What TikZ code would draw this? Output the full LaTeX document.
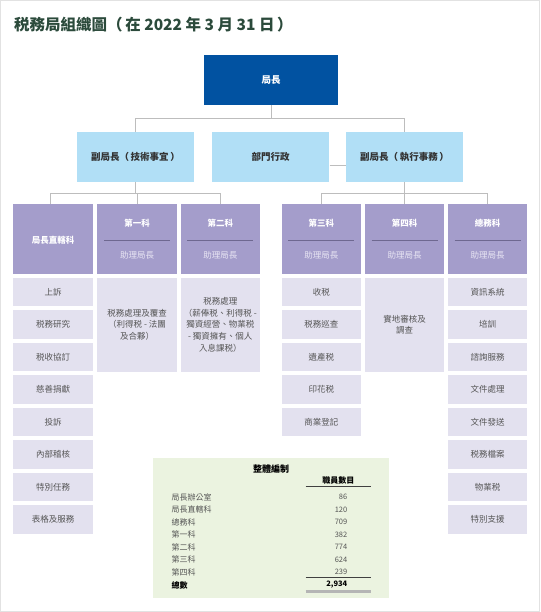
\documentclass[tikz,border=0pt]{standalone}
\usepackage{fontspec}
\setmainfont{Noto Sans CJK TC}
\usetikzlibrary{calc}
\definecolor{chiefblue}{HTML}{0152A1}
\definecolor{deplblue}{HTML}{B1DFF6}
\definecolor{hdrpurple}{HTML}{A49DCB}
\definecolor{itemlav}{HTML}{E3E1EF}
\definecolor{tblgreen}{HTML}{EBF3E0}
\definecolor{linegrey}{HTML}{BDBDBD}
\definecolor{titlegreen}{HTML}{2B4A3B}
\definecolor{itemtext}{HTML}{555555}
\definecolor{subwhite}{HTML}{E9E6F4}
\definecolor{dividerc}{HTML}{6E6890}
\definecolor{framegrey}{HTML}{E2E2E2}
\definecolor{bargrey}{HTML}{B5B5B5}
\tikzset{
  box/.style={rectangle, inner sep=0pt, draw=none, align=center},
  chiefbox/.style={box, fill=chiefblue, text=white, font=\bfseries\fontsize{9.5}{11}\selectfont, minimum width=133.4pt, minimum height=50pt},
  depbox/.style={box, fill=deplblue, text=black!80, font=\bfseries\fontsize{9.5}{11}\selectfont, minimum width=117.6pt, minimum height=49.4pt},
  hdrbox/.style={box, fill=hdrpurple, minimum width=79.4pt, minimum height=69.7pt},
  hdrtitle/.style={box, text=white, font=\bfseries\fontsize{8.5}{10}\selectfont},
  hdrsub/.style={box, text=subwhite, font=\fontsize{8.5}{10}\selectfont},
  itembox/.style={box, fill=itemlav, text=itemtext, font=\fontsize{8.5}{11.7}\selectfont, minimum width=79.4pt, minimum height=28.5pt},
  bigitem/.style={itembox, minimum height=94pt},
  conn/.style={draw=linegrey, line width=0.8pt},
  divline/.style={draw=dividerc, line width=0.7pt},
  tlabel/.style={box, text=itemtext, font=\fontsize{8}{9}\selectfont, anchor=west},
  tnum/.style={box, text=itemtext, font=\fontsize{7.5}{9}\selectfont, anchor=east},
  tbold/.style={box, text=black, font=\bfseries\fontsize{8}{9}\selectfont}
}
\begin{document}
\begin{tikzpicture}[x=1pt,y=-1pt]
\useasboundingbox (0,0) rectangle (540,612);
\draw[framegrey, line width=0.8pt] (0.5,0.5) rectangle (539.5,611.5);

% title
\node[box, anchor=west, text=titlegreen, font=\bfseries\fontsize{15.5}{18}\selectfont] (title) at (14,25) {税務局組織圖（\,在 2022 年 3 月 31 日\,）};

% top levels
\node[chiefbox] (chief) at (271,80) {局長};
\node[depbox] (d1) at (135.5,157) {副局長（\,技術事宜\,）};
\node[depbox] (d2) at (270.5,157) {部門行政};
\node[depbox] (d3) at (404.5,157) {副局長（\,執行事務\,）};

% division headers
\node[hdrbox] (h1) at (53,239.2) {};
\node[hdrbox] (h2) at (137,239.2) {};
\node[hdrbox] (h3) at (220.3,239.2) {};
\node[hdrbox] (h4) at (321.3,239.2) {};
\node[hdrbox] (h5) at (404.7,239.2) {};
\node[hdrbox] (h6) at (487.5,239.2) {};

\node[hdrtitle] (h1t) at ($(h1.center)+(0,1.5)$) {局長直轄科};
\foreach \h/\t in {h2/第一科, h3/第二科, h4/第三科, h5/第四科, h6/總務科}{
  \node[hdrtitle] (\h t) at ($(\h.center)+(0,-15.9)$) {\t};
  \node[hdrsub] (\h s) at ($(\h.center)+(0,15.8)$) {助理局長};
  \draw[divline] ($(\h.center)+(-33,0.8)$) -- ($(\h.center)+(33,0.8)$);
}

% connectors
\draw[conn] (chief.south) -- ++(0,13.3) coordinate (cbus);
\draw[conn] (d1.north) |- (cbus) -| (d3.north);
\draw[conn] ($(d2.east)+(0,8)$) -- ($(d3.west)+(0,8)$);
\draw[conn] (d1.south) -- ++(0,11.8) coordinate (lbus);
\draw[conn] ($(h1.north)+(-2.3,0)$) |- (lbus) -| (h3.north);
\draw[conn] (h2.north) -- (h2.north |- lbus);
\draw[conn] (d3.south) -- ++(0,11.8) coordinate (rbus);
\draw[conn] (h4.north) |- (rbus) -| (h6.north);
\draw[conn] (h5.north) -- (h5.north |- rbus);

% items
\foreach \t [count=\i from 0] in {上訴, 税務研究, 税收協訂, 慈善捐獻, 投訴, 內部稽核, 特別任務, 表格及服務}
  \node[itembox] (a\i) at (53,291.9+32.5*\i) {\t};
\foreach \t [count=\i from 0] in {收税, 税務巡查, 遺產税, 印花税, 商業登記}
  \node[itembox] (c\i) at (321.3,291.9+32.5*\i) {\t};
\foreach \t [count=\i from 0] in {資訊系統, 培訓, 諮詢服務, 文件處理, 文件發送, 税務檔案, 物業税, 特別支援}
  \node[itembox] (g\i) at (487.5,291.9+32.5*\i) {\t};
\node[bigitem] (b1) at (137,324.7) {税務處理及覆查\\（利得税 - 法團\\及合夥）};
\node[bigitem] (b2) at (220.3,324.7) {税務處理\\（薪俸税、利得税 -\\獨資經營、物業税\\- 獨資擁有、個人\\入息課税）};
\node[bigitem] (b4) at (404.7,324.7) {實地審核及\\調查};

% establishment table
\node[box, fill=tblgreen, minimum width=236pt, minimum height=140pt] (tbl) at (271.3,528.3) {};
\node[tbold, font=\bfseries\fontsize{9}{10}\selectfont] (tt) at (271,469) {整體編制};
\node[tbold] (th) at (338.3,480.7) {職員數目};
\draw[black!75, line width=0.8pt] (305.7,486.7) coordinate (ha) -- (370.7,486.7) coordinate (hb);
\foreach \lab/\num [count=\i from 0] in {局長辦公室/86, 局長直轄科/120, 總務科/709, 第一科/382, 第二科/774, 第三科/624, 第四科/239}{
  \node[tlabel] (r\i) at (171.5,497+12.55*\i) {\lab};
  \node[tnum] (n\i) at (347.5,497+12.55*\i) {\num};
}
\draw[black!75, line width=0.8pt] (305.7,577.7) coordinate (sa) -- (370.7,577.7) coordinate (sb);
\node[tbold, anchor=west] (tot) at (171.5,585) {總數};
\node[tbold, anchor=east, font=\bfseries\fontsize{7.5}{9}\selectfont] (totn) at (347.5,585) {2,934};
\draw[bargrey, line width=3pt] (305.7,591) coordinate (ba) -- (370.7,591) coordinate (bb);
\end{tikzpicture}
\end{document}
